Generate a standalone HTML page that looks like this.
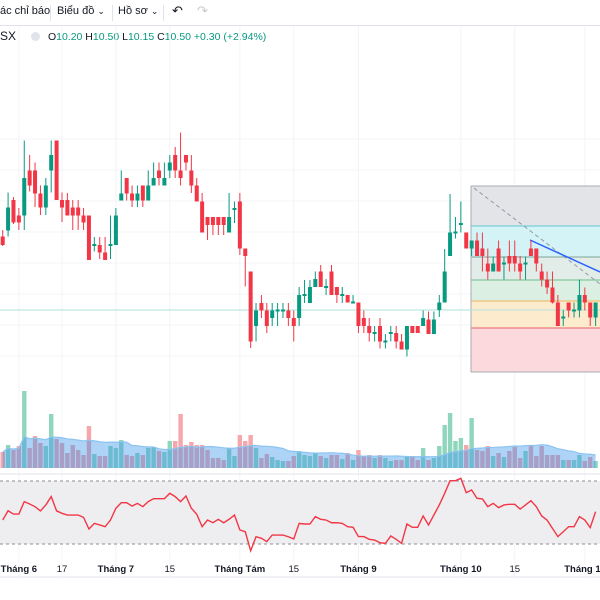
<!DOCTYPE html>
<html><head><meta charset="utf-8">
<style>
html,body{margin:0;padding:0;background:#fff;width:600px;height:600px;overflow:hidden;font-family:"Liberation Sans","DejaVu Sans",sans-serif;}
#wrap{position:relative;width:600px;height:600px;}
.tb{position:absolute;top:5px;font-size:11px;color:#131722;}
.sep{position:absolute;top:5px;width:1px;height:16px;background:#e0e3eb;}
#legend{position:absolute;top:29px;left:0;font-size:10.5px;color:#131722;white-space:nowrap;}
#legend .g{color:#089981;}
svg{position:absolute;left:0;top:0;}
</style></head>
<body><div id="wrap">
<div class="tb" style="left:0">ác chỉ báo</div>
<div class="sep" style="left:50px"></div>
<div class="tb" style="left:57px">Biểu đồ <span style="font-size:9px">⌄</span></div>
<div class="sep" style="left:112px"></div>
<div class="tb" style="left:118px">Hồ sơ <span style="font-size:9px">⌄</span></div>
<div class="sep" style="left:163px"></div>
<div class="tb" style="left:172px;font-size:13px;top:3px">↶</div>
<div class="tb" style="left:197px;font-size:13px;top:3px;color:#c8cad0">↷</div>
<div style="position:absolute;left:0;top:25px;width:600px;height:1px;background:#e0e3eb"></div>
<div id="legend"><span style="font-size:12px">SX</span>
<span style="display:inline-block;width:9px;height:9px;border-radius:50%;background:#e0e3eb;margin:0 8px 0 12px;vertical-align:-1px"></span>O<span class="g">10.20</span> H<span class="g">10.50</span> L<span class="g">10.15</span> C<span class="g">10.50</span> <span class="g">+0.30 (+2.94%)</span></div>
<svg id="chart" width="600" height="600"></svg>
</div>
<script>
const opens=[9.27,9.39,10.00,9.69,9.69,10.59,10.59,10.13,9.85,10.59,11.19,10.00,10.00,9.85,9.85,9.69,9.69,9.08,9.10,8.95,9.08,9.10,9.99,10.44,10.13,9.99,10.29,9.99,10.29,10.59,10.29,10.59,10.90,10.59,10.90,10.59,10.29,9.97,9.66,9.66,9.66,9.66,9.35,9.80,9.97,9.03,8.57,7.48,7.94,7.79,7.64,7.77,7.77,7.79,7.64,7.64,8.08,7.94,8.26,8.57,8.24,8.57,8.26,8.08,8.10,7.93,7.95,7.64,7.48,7.32,7.48,7.15,7.32,7.34,7.17,7.01,7.48,7.48,7.48,7.61,7.32,7.80,7.95,8.88,9.33,9.50,9.35,9.03,9.19,9.03,8.73,8.57,9.03,8.71,8.88,8.88,8.73,8.71,9.03,9.03,8.57,8.41,8.25,7.95,7.63,7.95,7.77,7.79,8.10,7.95,7.65];
const highs=[9.40,10.15,10.06,9.84,11.19,10.90,10.75,10.29,10.44,11.19,11.19,10.15,10.14,10.00,10.00,9.84,9.69,9.26,9.26,9.26,9.69,9.84,10.59,10.44,10.29,10.29,10.29,10.59,10.75,10.75,10.75,10.90,11.06,11.35,10.90,10.90,10.44,10.14,9.66,9.66,9.66,9.66,10.14,9.97,10.14,9.03,8.57,7.94,8.10,7.94,7.94,7.94,7.94,7.94,7.79,8.26,8.40,8.40,8.57,8.70,8.42,8.70,8.26,8.26,8.10,8.10,7.95,7.79,7.64,7.48,7.64,7.32,7.48,7.48,7.32,7.48,7.48,7.48,7.79,7.77,7.77,8.10,9.02,10.12,9.66,9.97,9.35,9.19,9.35,9.35,9.03,8.87,9.19,8.87,9.19,9.19,8.88,8.87,9.19,9.03,8.73,8.57,8.57,8.10,7.80,7.95,7.95,8.41,8.25,7.95,7.95];
const lows=[9.08,9.27,9.52,9.40,9.40,10.17,9.86,9.70,9.70,10.15,10.00,9.56,9.69,9.40,9.40,9.40,8.80,8.97,8.82,8.80,8.82,9.10,9.99,9.99,9.86,9.86,9.86,9.99,10.29,10.29,10.29,10.44,10.44,10.29,10.59,10.14,9.97,9.35,9.20,9.30,9.30,9.30,9.35,9.54,8.90,8.27,7.04,7.17,7.64,7.34,7.48,7.48,7.64,7.48,7.17,7.48,7.94,7.94,8.26,8.26,8.10,8.10,7.94,7.94,7.95,7.95,7.34,7.34,7.17,7.17,7.03,7.03,7.17,7.03,7.01,6.87,7.34,7.34,7.48,7.32,7.32,7.66,7.95,8.88,9.23,9.35,9.03,8.88,8.88,8.57,8.41,8.57,8.57,8.41,8.57,8.57,8.41,8.41,9.03,8.57,8.27,8.12,7.93,7.48,7.48,7.65,7.65,7.65,7.79,7.48,7.48];
const closes=[9.10,9.85,9.55,9.55,10.44,10.29,10.13,9.85,10.29,10.90,10.00,9.85,9.69,9.69,9.69,9.55,8.80,9.12,8.95,8.80,9.12,9.69,10.13,10.13,9.99,10.13,9.99,10.29,10.44,10.44,10.44,10.75,10.59,10.44,10.75,10.29,9.97,9.35,9.50,9.50,9.50,9.50,9.66,9.84,9.03,8.88,7.17,7.79,7.79,7.48,7.79,7.81,7.81,7.64,7.48,8.10,8.12,8.26,8.42,8.26,8.28,8.10,8.10,8.12,7.95,7.97,7.48,7.48,7.34,7.36,7.17,7.19,7.36,7.17,7.01,7.48,7.34,7.34,7.64,7.32,7.61,7.95,8.57,9.35,9.37,9.54,9.03,9.19,8.88,8.88,8.57,8.73,8.57,8.75,8.73,8.73,8.57,8.75,8.88,8.73,8.41,8.25,7.95,7.48,7.67,7.79,7.81,8.10,7.95,7.65,7.95];
const volumes=[1.6,2.3,1.8,2.2,7.7,2.0,3.2,2.5,2.2,5.4,2.9,2.5,1.5,2.3,1.8,1.3,4.2,1.4,1.2,1.2,2.2,2.0,2.8,1.3,1.2,1.5,1.3,2.0,2.1,1.7,1.6,2.7,2.7,5.4,2.3,2.6,2.3,2.3,1.8,1.0,1.0,0.8,2.0,1.2,3.3,2.7,3.3,2.0,1.0,1.4,1.1,0.8,0.7,0.7,1.2,1.7,1.3,1.2,1.5,1.2,1.0,1.3,1.3,0.9,1.5,0.8,1.8,1.2,1.3,1.0,1.3,1.0,0.7,0.8,0.8,1.2,1.1,0.8,2.0,0.8,1.0,2.2,4.3,5.5,2.7,3.0,2.3,5.0,1.8,1.7,2.2,1.2,1.5,1.1,1.7,2.1,1.0,1.7,2.2,1.2,2.2,1.3,1.3,1.3,0.8,0.8,0.8,1.3,0.7,1.1,0.7];
const rsi=[45.2,51.1,49.0,49.0,56.9,55.4,53.7,51.0,54.8,60.1,51.0,49.5,48.4,48.4,48.4,46.9,39.5,43.1,42.1,41.0,45.2,52.7,56.2,56.2,54.1,55.8,53.7,56.9,58.8,58.8,58.8,62.2,60.1,56.9,60.5,52.7,48.9,41.0,45.2,43.5,45.7,43.5,45.7,48.4,38.9,37.8,25.7,34.6,33.6,31.5,35.7,35.7,35.7,34.6,33.2,43.1,42.7,42.7,47.4,45.7,45.2,43.5,43.5,43.1,41.0,40.6,34.7,34.7,33.0,32.5,30.8,30.4,35.1,33.0,30.4,42.7,40.6,40.6,47.8,42.1,48.4,54.8,62.2,70.2,70.2,71.7,62.6,64.3,59.0,58.6,53.7,55.8,53.1,54.8,55.2,55.2,52.2,54.8,57.5,53.7,47.8,45.2,39.9,34.7,37.8,41.0,41.0,47.4,45.2,40.4,50.5];
const timeLabels=["Tháng 6","17","Tháng 7","15","Tháng Tám","15","Tháng 9","Tháng 10","15","Tháng 11"];
const timeLabelIdx=[3,11,21,31,44,54,66,85,95,108];
const fibLevels=[10.28,9.48,8.86,8.40,7.98,7.44,6.56];

const NS="http://www.w3.org/2000/svg";
const svg=document.getElementById('chart');
const xS=i=>2.7+i*5.39;
const yP=p=>700-50*p;
const yV=v=>468-v*10;
const yR=r=>481+(70-r)*1.575;
function mk(tag,attrs,parent){const e=document.createElementNS(NS,tag);for(const k in attrs)e.setAttribute(k,attrs[k]);(parent||svg).appendChild(e);return e;}

const grid=mk('g',{});


[139,170,201,232,263,294,325,356].forEach(y=>mk('line',{x1:0,x2:600,y1:y,y2:y,stroke:'#f3f4f7','stroke-width':1},grid));
timeLabelIdx.forEach(i=>mk('line',{x1:xS(i),x2:xS(i),y1:26,y2:577,stroke:'#f3f4f7','stroke-width':1},grid));

const fib=mk('g',{});


const fx1=471,fx2=600;
const fibFills=['#e3e4e8','#d3f3f6','#e2ede9','#dcefe3','#fdebcd','#fbd9dc'];
const fibStrokes=['#a9abb3','#5fc8d3','#7fa596','#6cbf8a','#f0b65a','#e8606c','#a9abb3'];
for(let k=0;k<fibLevels.length-1;k++){
  const r=mk('rect',{x:fx1,y:yP(fibLevels[k]),width:fx2-fx1,height:yP(fibLevels[k+1])-yP(fibLevels[k]),fill:fibFills[k]},fib);
  
  
}
fibLevels.forEach((l,k)=>{const ln=mk('line',{x1:fx1,x2:fx2,y1:yP(l),y2:yP(l),stroke:fibStrokes[k],'stroke-width':1},fib);
  
  });
mk('line',{x1:fx1,x2:fx1,y1:yP(fibLevels[0]),y2:yP(fibLevels[6]),stroke:'#a9abb3','stroke-width':1},fib);
const diag=mk('line',{x1:474,y1:188,x2:600,y2:284,stroke:'#9598a1','stroke-width':1,'stroke-dasharray':'4 3'},fib);


const blue=mk('line',{x1:530,y1:240,x2:600,y2:272,stroke:'#2962ff','stroke-width':1.5},svg);



const pl=mk('line',{x1:0,x2:600,y1:310,y2:310,stroke:'#b2e0da','stroke-width':1});



const cg=mk('g',{});


for(let i=0;i<closes.length;i++){
  const up=closes[i]>=opens[i];const col=up?'#089981':'#f23645';
  const x=xS(i);
  const g=mk('g',{},cg);
  
  
  mk('line',{x1:x,x2:x,y1:yP(highs[i]),y2:yP(lows[i]),stroke:col,'stroke-width':1},g);
  const t=yP(Math.max(opens[i],closes[i])),b=yP(Math.min(opens[i],closes[i]));
  mk('rect',{x:x-2,y:t,width:4,height:Math.max(1,b-t),fill:col},g);
}

const vg=mk('g',{});


for(let i=0;i<volumes.length;i++){
  const up=closes[i]>=opens[i];
  const r=mk('rect',{x:xS(i)-2.2,y:yV(volumes[i]),width:4.4,height:468-yV(volumes[i]),fill:up?'#8fd6bd':'#f7a6ab'},vg);
  
  
}
const ma=[];for(let i=0;i<volumes.length;i++){let s=0,n=0;for(let j=Math.max(0,i-19);j<=i;j++){s+=volumes[j];n++;}ma.push(s/n);}
let d='M'+xS(0)+',468';ma.forEach((v,i)=>d+=' L'+xS(i)+','+yV(v));d+=' L'+xS(ma.length-1)+',468 Z';
const area=mk('path',{d:d,fill:'rgba(60,150,235,0.42)'},vg);


const mal=mk('polyline',{points:ma.map((v,i)=>xS(i)+','+yV(v)).join(' '),fill:'none',stroke:'#8cc4f0','stroke-width':1.2},vg);


const sepl=mk('line',{x1:0,x2:600,y1:474,y2:474,stroke:'#e0e3eb','stroke-width':1});



const rg=mk('g',{});


const band=mk('rect',{x:0,y:yR(70),width:600,height:yR(30)-yR(70),fill:'#eeeef1'},rg);


[70,30].forEach(v=>{const l=mk('line',{x1:0,x2:600,y1:yR(v),y2:yR(v),stroke:'#8a8d95','stroke-width':1,'stroke-dasharray':'3 3'},rg);
  
  });
const rl=mk('polyline',{points:rsi.map((v,i)=>xS(i)+','+yR(v)).join(' '),fill:'none',stroke:'#f23645','stroke-width':1.4},rg);



const ta=mk('g',{});


mk('line',{x1:0,x2:600,y1:577,y2:577,stroke:'#e0e3eb','stroke-width':1},ta);
timeLabels.forEach((t,k)=>{const bold=!/^\d+$/.test(t);
  const tx=mk('text',{x:xS(timeLabelIdx[k]),y:572,'text-anchor':'middle','font-size':'9.5px','font-family':'Liberation Sans, sans-serif',fill:'#131722','font-weight':bold?'bold':'normal'},ta);
  tx.textContent=t;
  
  });
</script>
</body></html>
